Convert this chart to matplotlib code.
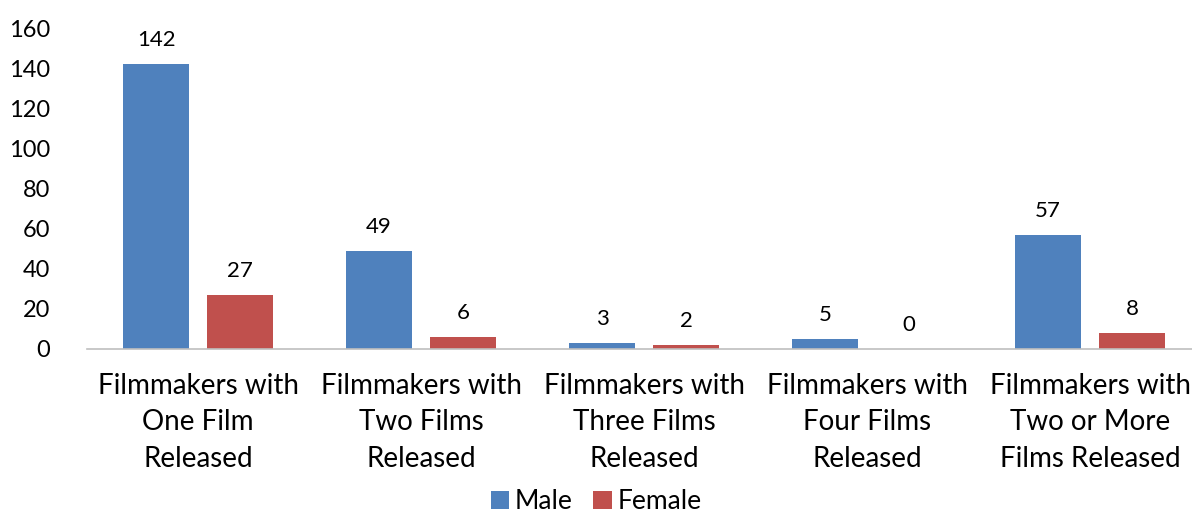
import numpy as np
import matplotlib.pyplot as plt

plt.rcParams['font.family'] = ['Lato', 'DejaVu Sans']

categories = ['Filmmakers with\nOne Film\nReleased',
              'Filmmakers with\nTwo Films\nReleased',
              'Filmmakers with\nThree Films\nReleased',
              'Filmmakers with\nFour Films\nReleased',
              'Filmmakers with\nTwo or More\nFilms Released']
male = [142, 49, 3, 5, 57]
female = [27, 6, 2, 0, 8]
yticks = [0, 20, 40, 60, 80, 100, 120, 140, 160]

blue = '#4F81BD'
red = '#C0504D'

fig = plt.figure(figsize=(11.92, 5.2), dpi=100)
ax = fig.add_axes([86.5 / 1192, 0.329, 1105 / 1192, 0.617])

x = np.arange(len(categories))
w = 0.296
off = 0.188
bm = ax.bar(x - off, male, w, color=blue, label='Male')
bf = ax.bar(x + off, female, w, color=red, label='Female')

for bars, vals in ((bm, male), (bf, female)):
    for b, v in zip(bars, vals):
        ax.text(b.get_x() + b.get_width() / 2, v + 7, str(v),
                ha='center', va='bottom', fontsize=16)

ax.set_xlim(-0.5, 4.455)
ax.set_ylim(0, 160)
ax.set_yticks(yticks)
ax.set_yticklabels([str(t) for t in yticks], fontsize=17)
ax.set_xticks(x)
ax.set_xticklabels(categories, fontsize=20, linespacing=1.5)
ax.tick_params(axis='both', length=0)
ax.tick_params(axis='x', pad=17)
ax.tick_params(axis='y', pad=26)

for s in ['top', 'right', 'left']:
    ax.spines[s].set_visible(False)
ax.spines['bottom'].set_color('#BFBFBF')
ax.spines['bottom'].set_linewidth(1.2)

fig.legend(handles=[bm, bf], loc='lower center', ncol=2, frameon=False,
           fontsize=19, bbox_to_anchor=(0.5, -0.035), handlelength=0.7,
           handleheight=0.7, handletextpad=0.2, columnspacing=0.8)

fig.savefig('out.png', dpi=100)
